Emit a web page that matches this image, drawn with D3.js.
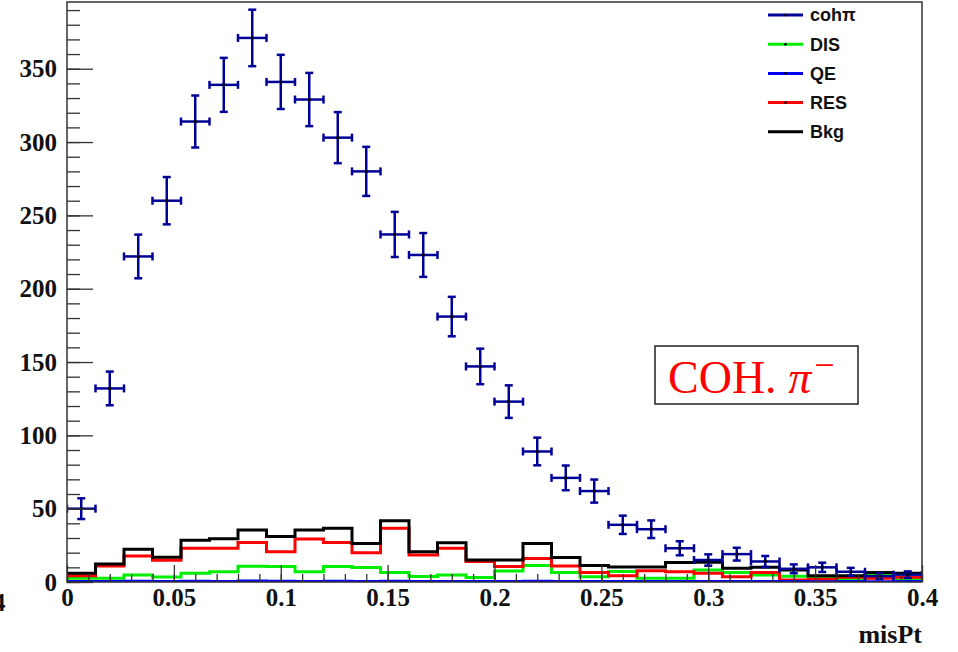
<!DOCTYPE html>
<html>
<head>
<meta charset="utf-8">
<script src="https://cdn.jsdelivr.net/npm/d3@7"></script>
<style>
  html, body { margin: 0; padding: 0; background: #fff; }
  svg { display: block; }
</style>
</head>
<body>
<svg id="chart" width="958" height="652"></svg>
<script>
// ---- data ----
const binEdges = d3.range(31).map(i => i * 0.4 / 30); // 30 bins, 0..0.4
const cohValues = [50,132,222,260,314,339,371,341,329,303,280,237,223,181,147,123,89,71,62,39,36,23,15,19,14,9,10,7,4,5];
const disValues = [2.5,2.5,4.8,3.4,5.9,7.0,10.7,10.6,7.0,10.5,9.9,6.5,3.8,4.8,3.0,7.5,11.3,6.5,3.6,7.2,2.5,2.5,8.2,6.4,4.8,4.0,3.6,1.8,4.8,1.8];
const qeValues  = [0.4,0.3,0.5,0.4,0.5,0.4,0.6,0.5,0.4,0.5,0.4,0.5,0.3,0.4,0.3,0.4,0.5,0.3,0.3,0.4,0.3,0.3,0.4,0.3,0.3,0.3,0.2,0.3,0.2,0.3];
const resValues = [4.3,10.9,17.7,14.8,23,23,27,20.7,29.3,27,20,36.6,18.4,23,13.9,10.5,16.1,10.9,6.4,4.3,7.7,7.0,5.9,3.6,6.4,1.4,1.8,3.2,2.5,3.2];
const bkgValues = [5.9,12.3,22.3,16.8,28.4,29.5,35.4,31,35.4,36.6,26.3,41.8,20.6,26.8,15,15,26.2,16.7,11.3,10.3,10.3,13.3,13.4,9.3,10,8.2,4.3,4.3,6.4,5.9];
const xTickValues = [0,0.05,0.1,0.15,0.2,0.25,0.3,0.35,0.4];
const yTickValues = [0,50,100,150,200,250,300,350];
const legendLabels = ["cohπ","DIS","QE","RES","Bkg"];
const legendColors = ["#000099","#00ee00","#0000ff","#ff0000","#000000"];

// ---- layout ----
const svg = d3.select("#chart");
const L = 67, R = 922, T = 2, B = 582;
const x = d3.scaleLinear().domain([0, 0.4]).range([L, R]);
const y = d3.scaleLinear().domain([0, 395.5]).range([B, T]);

svg.append("defs").append("clipPath").attr("id", "frameclip")
  .append("rect").attr("x", L).attr("y", T).attr("width", R - L).attr("height", B - T);

const plot = svg.append("g").attr("clip-path", "url(#frameclip)");

function stepLine(values) {
  const pts = values.map((v, i) => [binEdges[i], v]);
  pts.push([binEdges[values.length], values[values.length - 1]]);
  return d3.line().x(d => x(d[0])).y(d => y(d[1])).curve(d3.curveStepAfter)(pts);
}

const hists = [
  {v: disValues, c: "#00ee00"},
  {v: resValues, c: "#ff0000"},
  {v: bkgValues, c: "#000000"},
  {v: qeValues,  c: "#0000ff"}
];
hists.forEach(h => {
  plot.append("path").attr("d", stepLine(h.v))
    .attr("fill", "none").attr("stroke", h.c).attr("stroke-width", 3);
});

// coh pi error crosses
const cohColor = "#000099";
const cap = 4;
const g = plot.append("g").attr("stroke", cohColor).attr("stroke-width", 2.5).attr("fill", "none");
cohValues.forEach((v, i) => {
  const x0 = x(binEdges[i]), x1 = x(binEdges[i + 1]), xc = (x0 + x1) / 2;
  const err = Math.sqrt(v);
  const yc = y(v), yLo = y(v - err), yHi = y(v + err);
  g.append("line").attr("x1", x0).attr("x2", x1).attr("y1", yc).attr("y2", yc);
  g.append("line").attr("x1", x0).attr("x2", x0).attr("y1", yc - cap).attr("y2", yc + cap);
  g.append("line").attr("x1", x1).attr("x2", x1).attr("y1", yc - cap).attr("y2", yc + cap);
  g.append("line").attr("x1", xc).attr("x2", xc).attr("y1", yLo).attr("y2", yHi);
  g.append("line").attr("x1", xc - cap).attr("x2", xc + cap).attr("y1", yLo).attr("y2", yLo);
  g.append("line").attr("x1", xc - cap).attr("x2", xc + cap).attr("y1", yHi).attr("y2", yHi);
  plot.append("circle").attr("cx", xc).attr("cy", yc).attr("r", 1.6).attr("fill", "#000");
});

// ---- axes ----
const fmtX = d => String(+d.toFixed(2));
const axisFont = "'Liberation Serif', 'Times New Roman', serif";

// y minor
svg.append("g").attr("transform", `translate(${L},0)`)
  .call(d3.axisLeft(y).tickValues(d3.range(0, 391, 10)).tickSize(-13).tickFormat(""))
  .call(s => s.select(".domain").remove())
  .selectAll("line").attr("stroke", "#333").attr("stroke-width", 1.3);
// y major
const yAx = svg.append("g").attr("transform", `translate(${L},0)`)
  .call(d3.axisLeft(y).tickValues(yTickValues).tickSize(-26).tickPadding(10).tickFormat(d3.format("d")));
yAx.select(".domain").remove();
yAx.selectAll("line").attr("stroke", "#333").attr("stroke-width", 1.3);
yAx.selectAll("text").attr("font-family", axisFont).attr("font-weight", "bold")
  .attr("font-size", 25).attr("fill", "#111");

// x minor
svg.append("g").attr("transform", `translate(0,${B})`)
  .call(d3.axisBottom(x).tickValues(d3.range(0, 41).map(i => i / 100)).tickSize(-8).tickFormat(""))
  .call(s => s.select(".domain").remove())
  .selectAll("line").attr("stroke", "#333").attr("stroke-width", 1.3);
// x major
const xAx = svg.append("g").attr("transform", `translate(0,${B})`)
  .call(d3.axisBottom(x).tickValues(xTickValues).tickSize(-17).tickPadding(6).tickFormat(fmtX));
xAx.select(".domain").remove();
xAx.selectAll("line").attr("stroke", "#333").attr("stroke-width", 1.3);
xAx.selectAll("text").attr("font-family", axisFont).attr("font-weight", "bold")
  .attr("font-size", 25).attr("fill", "#111");

// frame
svg.append("rect").attr("x", L).attr("y", T).attr("width", R - L).attr("height", B - T)
  .attr("fill", "none").attr("stroke", "#333").attr("stroke-width", 1.5);

// axis title
svg.append("text").attr("x", R).attr("y", 643).attr("text-anchor", "end")
  .attr("font-family", axisFont).attr("font-weight", "bold").attr("font-size", 26)
  .attr("fill", "#111").text("misPt");

// stray clipped label at far left (present in the reference)
svg.append("text").attr("x", -7).attr("y", 611)
  .attr("font-family", axisFont).attr("font-weight", "bold").attr("font-size", 25)
  .attr("fill", "#111").text("4");

// ---- legend ----
const leg = svg.append("g");
legendLabels.forEach((lab, i) => {
  const yy = 15 + i * 29.2;
  leg.append("line").attr("x1", 768).attr("x2", 803).attr("y1", yy).attr("y2", yy)
    .attr("stroke", legendColors[i]).attr("stroke-width", 3);
  if (i < 4) leg.append("circle").attr("cx", 785.5).attr("cy", yy).attr("r", 1.3).attr("fill", "#000");
  leg.append("text").attr("x", 810).attr("y", yy).attr("dy", "0.36em")
    .attr("font-family", "'Liberation Sans', Arial, sans-serif").attr("font-weight", "bold")
    .attr("font-size", 18).attr("fill", "#111").text(lab);
});

// ---- annotation box ----
svg.append("rect").attr("x", 655).attr("y", 346).attr("width", 203).attr("height", 58)
  .attr("fill", "#fff").attr("stroke", "#222").attr("stroke-width", 1.5);
const ann = svg.append("text").attr("x", 668).attr("y", 393)
  .attr("font-family", axisFont).attr("font-size", 46).attr("fill", "#ff0000");
ann.append("tspan").text("COH. ");
ann.append("tspan").attr("font-style", "italic").text("π");
ann.append("tspan").attr("font-size", 36).attr("dx", 3).attr("dy", -16).text("−");
</script>
</body>
</html>
